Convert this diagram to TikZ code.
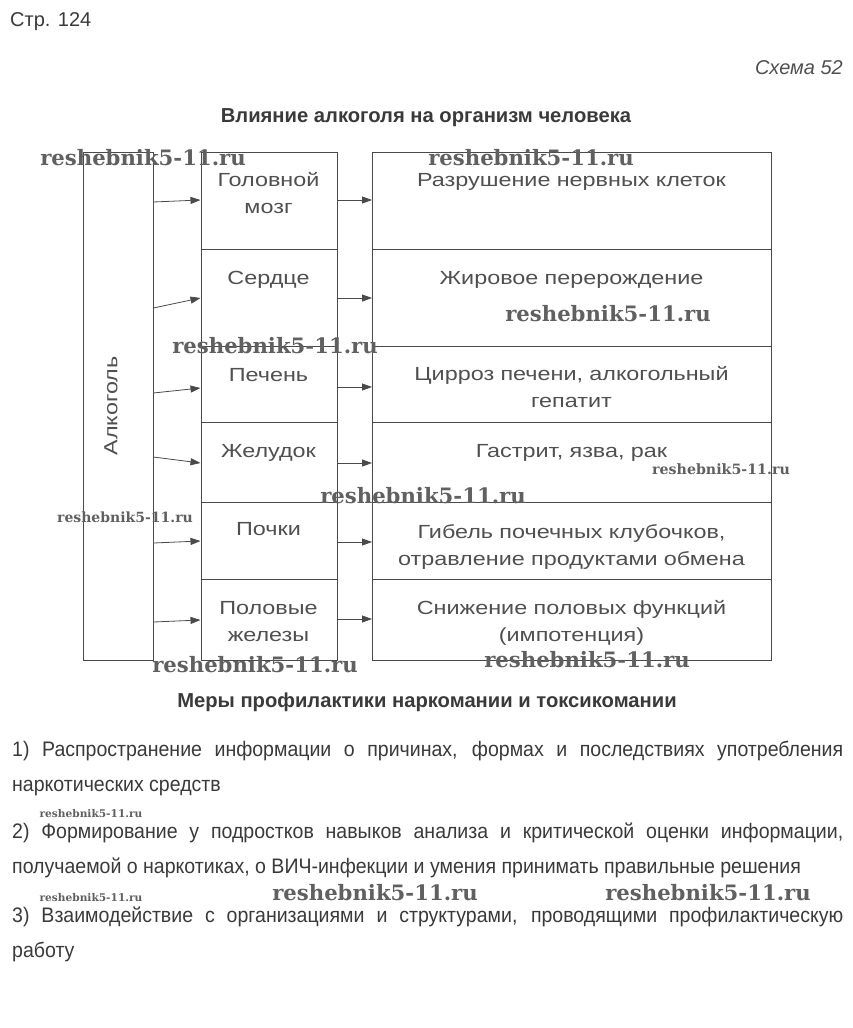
\documentclass[tikz,border=0pt]{standalone}
\usepackage{fontspec}
\usepackage{tikz}
\usetikzlibrary{arrows.meta,positioning}
\newfontfamily\schemefont[FakeStretch=1.23]{Liberation Sans}
\newfontfamily\headfont{Liberation Sans}
\newfontfamily\narrowfont[FakeStretch=0.93]{Liberation Sans}
\newfontfamily\markfont{DejaVu Serif}
\definecolor{schink}{HTML}{3A3A3A}
\definecolor{schsoft}{HTML}{505050}
\definecolor{schline}{HTML}{4A4A4A}
\definecolor{schmark}{HTML}{606060}
\tikzset{
  cell/.style={draw=schline,line width=0.8pt,anchor=north west,inner sep=0pt},
  celltext/.style={text=schsoft,font=\schemefont\fontsize{19}{27.5}\selectfont,text width=#1,align=center,anchor=base,inner sep=0pt},
  feed/.style={-{Triangle[length=10pt,width=7pt]},draw=schline,line width=0.8pt},
  wmark/.style={text=schmark,font=\markfont\bfseries\fontsize{#1}{#1}\selectfont,inner sep=0pt},
  item/.style={text=schink,font=\narrowfont\fontsize{21}{35}\selectfont,text width=831pt,align=justify,anchor=base west,inner sep=0pt}
}
\begin{document}
\begin{tikzpicture}[x=1pt,y=-1pt]
  \useasboundingbox[fill=white] (0,0) rectangle (853,1028);
  \node[anchor=base west,text=schink,font=\headfont\fontsize{20}{20}\selectfont,inner sep=0pt] (page) at (10,26) {Стр. 124};
  \node[anchor=base east,text=schsoft,font=\headfont\itshape\fontsize{20}{20}\selectfont,inner sep=0pt] (scheme) at (843,74) {Схема 52};
  \node[anchor=base,text=schink,font=\headfont\bfseries\fontsize{20.2}{20}\selectfont,inner sep=0pt] (title) at (426,122) {Влияние алкоголя на организм человека};
  \node[cell,minimum width=70pt,minimum height=508pt] (alc) at (82.5,152) {};
  \node[text=schsoft,font=\schemefont\fontsize{19}{19}\selectfont,rotate=90,inner sep=0pt] (alctext) at (111,406) {Алкоголь};
  \foreach \i/\top/\h in {1/152/97,2/249/97,3/346/76,4/422/80,5/502/77,6/579/81}{
    \node[cell,minimum width=136pt,minimum height=\h pt] (org\i) at (200.5,\top) {};
    \node[cell,minimum width=399pt,minimum height=\h pt] (res\i) at (372,\top) {};
  }
  \node[celltext=132pt] (orgt1) at (268.5,186) {Головной\\мозг};
  \node[celltext=132pt] (orgt2) at (268.5,284) {Сердце};
  \node[celltext=132pt] (orgt3) at (268.5,381) {Печень};
  \node[celltext=132pt] (orgt4) at (268.5,457) {Желудок};
  \node[celltext=132pt] (orgt5) at (268.5,535) {Почки};
  \node[celltext=132pt] (orgt6) at (268.5,614) {Половые\\железы};
  \node[celltext=395pt] (rest1) at (571.5,186) {Разрушение нервных клеток};
  \node[celltext=395pt] (rest2) at (571.5,284) {Жировое перерождение};
  \node[celltext=395pt] (rest3) at (571.5,380) {Цирроз печени, алкогольный\\гепатит};
  \node[celltext=395pt] (rest4) at (571.5,457) {Гастрит, язва, рак};
  \node[celltext=395pt] (rest5) at (571.5,538) {Гибель почечных клубочков,\\отравление продуктами обмена};
  \node[celltext=395pt] (rest6) at (571.5,614) {Снижение половых функций\\(импотенция)};
  \foreach \i/\ya/\yb/\yc in {1/202/200/200,2/308/298/298,3/393/388/387,4/457/463/463,5/543/541/542,6/622/620/619}{
    \draw[feed] (alc.east |- 0,\ya) -- (org\i.west |- 0,\yb);
    \draw[feed] (org\i.east |- 0,\yc) -- (res\i.west |- 0,\yc);
  }
  \node[anchor=base,text=schink,font=\headfont\bfseries\fontsize{20.2}{20}\selectfont,inner sep=0pt] (measures) at (427,707) {Меры профилактики наркомании и токсикомании};
  \node[item] (item1) at (12,756) {\emergencystretch=3em 1) Распространение информации о причинах, формах и последствиях употребления\linebreak наркотических средств};
  \node[item] (item2) at (12,838) {\emergencystretch=3em 2) Формирование у подростков навыков анализа и критической оценки информации,\linebreak получаемой о наркотиках, о ВИЧ-инфекции и умения принимать правильные решения};
  \node[item] (item3) at (12,922) {\emergencystretch=3em 3) Взаимодействие с организациями и структурами, проводящими профилактическую\linebreak работу};
  \foreach \x/\y/\s [count=\k] in {143/158/21.2,531/158/21.2,608/314/21.2,275/346/21.2,721/469/14.2,423/496/21.2,125/517/14,255/665/21.2,587/660/21.2,91/814/10.6,91/898/10.6,375/893/21.2,708/893/21.2}{
    \node[wmark=\s] (mark\k) at (\x,\y) {reshebnik5-11.ru};
  }
\end{tikzpicture}
\end{document}
